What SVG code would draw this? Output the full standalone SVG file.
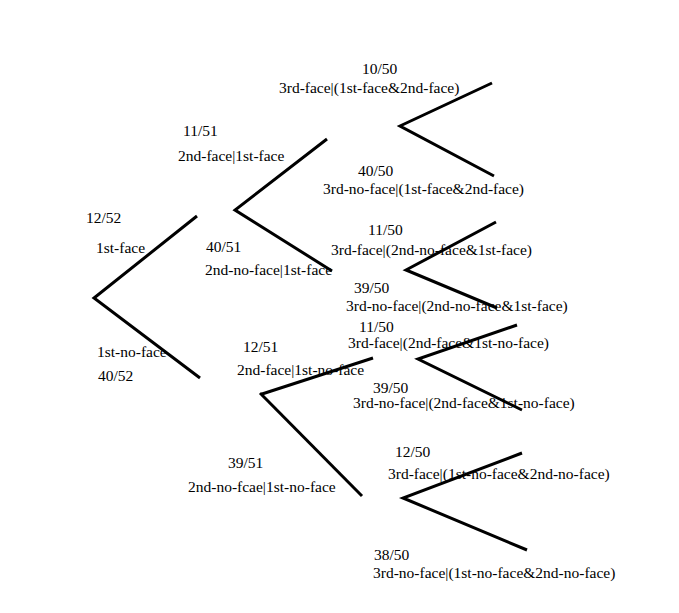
<svg xmlns="http://www.w3.org/2000/svg" width="679" height="613" viewBox="0 0 679 613">
<style>
text{font-family:"Liberation Serif","Times New Roman",serif;font-size:15.5px;fill:#000}
.br{stroke:#000;stroke-width:3;fill:none;stroke-linecap:butt;stroke-linejoin:miter}
</style>
<rect width="679" height="613" fill="#fff"/>
<g id="n-1st-face"><text x="86" y="223">12/52</text><text x="96" y="253">1st-face</text></g>
<g id="n-1st-no-face"><text x="97" y="357">1st-no-face</text><text x="98" y="381">40/52</text></g>
<g id="n-2nd-face-1st-face"><text x="183" y="136">11/51</text><text x="178" y="161">2nd-face|1st-face</text></g>
<g id="n-2nd-no-face-1st-face"><text x="206" y="252">40/51</text><text x="205" y="275">2nd-no-face|1st-face</text></g>
<g id="n-2nd-face-1st-no-face"><text x="243" y="352">12/51</text><text x="237" y="375">2nd-face|1st-no-face</text></g>
<g id="n-2nd-no-face-1st-no-face"><text x="228" y="468">39/51</text><text x="188" y="492">2nd-no-fcae|1st-no-face</text></g>
<g id="n-3-ff-f"><text x="362" y="74">10/50</text><text x="279" y="93">3rd-face|(1st-face&amp;2nd-face)</text></g>
<g id="n-3-ff-nf"><text x="358" y="176">40/50</text><text x="323" y="194">3rd-no-face|(1st-face&amp;2nd-face)</text></g>
<g id="n-3-fn-f"><text x="368" y="235">11/50</text><text x="331" y="255">3rd-face|(2nd-no-face&amp;1st-face)</text></g>
<g id="n-3-fn-nf"><text x="354" y="293">39/50</text><text x="346" y="311">3rd-no-face|(2nd-no-face&amp;1st-face)</text></g>
<g id="n-3-nf-f"><text x="359" y="332">11/50</text><text x="348" y="348">3rd-face|(2nd-face&amp;1st-no-face)</text></g>
<g id="n-3-nf-nf"><text x="373" y="393">39/50</text><text x="353" y="408">3rd-no-face|(2nd-face&amp;1st-no-face)</text></g>
<g id="n-3-nn-f"><text x="395" y="457">12/50</text><text x="388" y="479">3rd-face|(1st-no-face&amp;2nd-no-face)</text></g>
<g id="n-3-nn-nf"><text x="374" y="560">38/50</text><text x="373" y="578">3rd-no-face|(1st-no-face&amp;2nd-no-face)</text></g>
<g id="connectors">
<polyline class="br" points="197,216 94,298 200,378"/>
<polyline class="br" points="327,139 235,210 332,271"/>
<polyline class="br" points="373,358 262,394"/>
<line class="br" x1="260" y1="393" x2="362" y2="496"/>
<polyline class="br" points="492,83 400,126 494,176"/>
<polyline class="br" points="496,222 406,270 497,308"/>
<polyline class="br" points="517,325 418,359 522,410"/>
<polyline class="br" points="522,453 403,498 527,550"/>
</g>
</svg>
